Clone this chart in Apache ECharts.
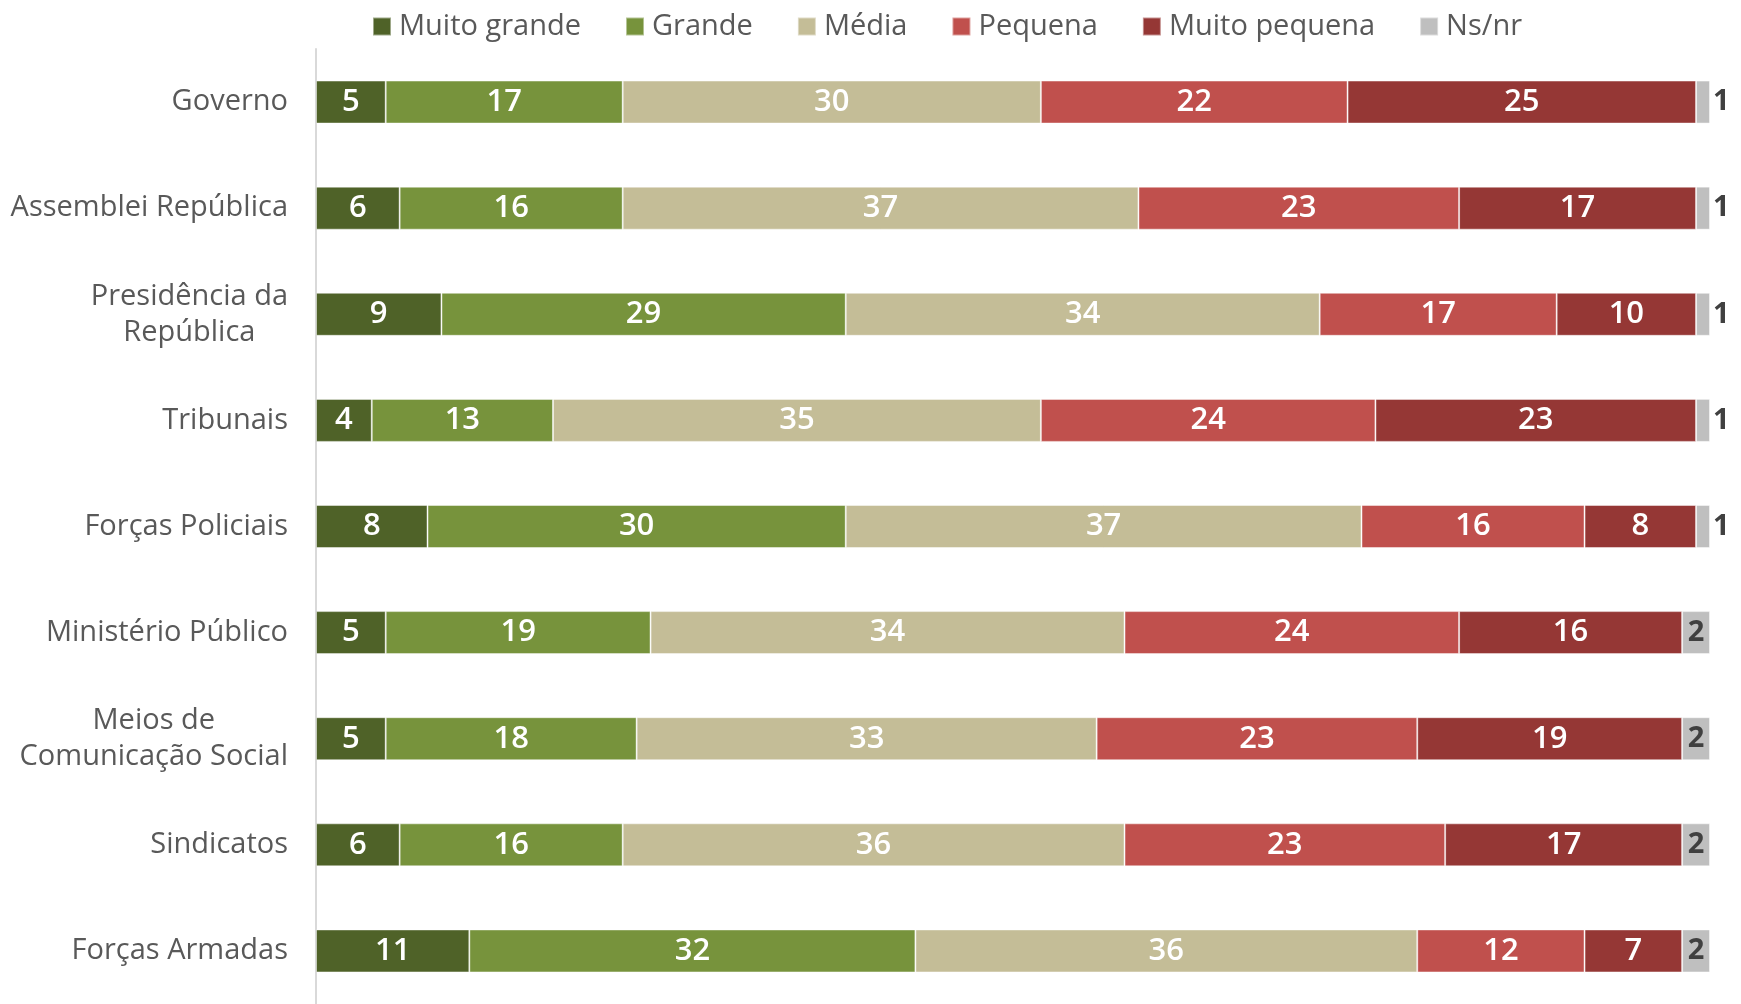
<!DOCTYPE html>
<html>
<head>
<meta charset="utf-8">
<script src="https://cdn.jsdelivr.net/npm/echarts@6/dist/echarts.min.js"></script>
<style>
html,body{margin:0;padding:0;background:#fff;}
#chart{width:1741px;height:1004px;}
</style>
</head>
<body>
<div id="chart"></div>
<script>
const categories = ['Governo', 'Assemblei República', 'Presidência da\nRepública', 'Tribunais', 'Forças Policiais', 'Ministério Público', 'Meios de\nComunicação Social', 'Sindicatos', 'Forças Armadas'];
const seriesNames = ['Muito grande', 'Grande', 'Média', 'Pequena', 'Muito pequena', 'Ns/nr'];
const muitoGrande  = [5, 6, 9, 4, 8, 5, 5, 6, 11];
const grande       = [17, 16, 29, 13, 30, 19, 18, 16, 32];
const media        = [30, 37, 34, 35, 37, 34, 33, 36, 36];
const pequena      = [22, 23, 17, 24, 16, 24, 23, 23, 12];
const muitoPequena = [25, 17, 10, 23, 8, 16, 19, 17, 7];
const nsnr         = [1, 1, 1, 1, 1, 2, 2, 2, 2];

const colors = ['#4f6228', '#77933c', '#c4bd97', '#c0504d', '#953735', '#bfbfbf'];
const values = [muitoGrande, grande, media, pequena, muitoPequena, nsnr];
const FONT = '"Open Sans", "Noto Sans", sans-serif';

const series = values.map((arr, i) => {
  const isLast = i === values.length - 1;
  return {
    name: seriesNames[i],
    type: 'bar',
    stack: 'total',
    barWidth: 43,
    itemStyle: { color: colors[i], borderColor: 'rgba(255,255,255,0.45)', borderWidth: 1 },
    label: {
      show: true,
      position: 'inside',
      color: '#ffffff',
      fontFamily: FONT,
      fontSize: 31,
      fontWeight: 600
    },
    data: arr.map(v => {
      if (!isLast) return v;
      return {
        value: v,
        label: {
          position: v < 2 ? 'right' : 'inside',
          distance: 3,
          color: '#404040',
          fontSize: 29,
          fontWeight: 'bold'
        }
      };
    })
  };
});

const chart = echarts.init(document.getElementById('chart'));
chart.setOption({
  animation: false,
  backgroundColor: '#ffffff',
  color: colors,
  legend: {
    top: 7,
    left: 367,
    itemWidth: 18,
    itemHeight: 18,
    itemGap: 44,
    icon: 'rect',
    textStyle: { fontFamily: FONT, fontSize: 29, color: '#595959', lineHeight: 29, padding: [0, 0, 0, 3] },
    data: seriesNames
  },
  grid: { left: 316, right: 31, top: 49, bottom: -5, containLabel: false },
  xAxis: {
    type: 'value',
    min: 0,
    max: 100,
    show: false
  },
  yAxis: {
    type: 'category',
    inverse: true,
    data: categories,
    axisLine: { show: true, lineStyle: { color: '#d9d9d9', width: 2 } },
    axisTick: { show: false },
    axisLabel: {
      margin: 28,
      fontFamily: FONT,
      fontSize: 29,
      color: '#595959',
      lineHeight: 36,
      formatter: function (v) {
        return v.split('\n').map(s => '{c|' + s + '}').join('\n');
      },
      rich: {
        c: { align: 'center', fontFamily: FONT, fontSize: 29, color: '#595959', lineHeight: 36 }
      }
    }
  },
  series: series
});
</script>
</body>
</html>
